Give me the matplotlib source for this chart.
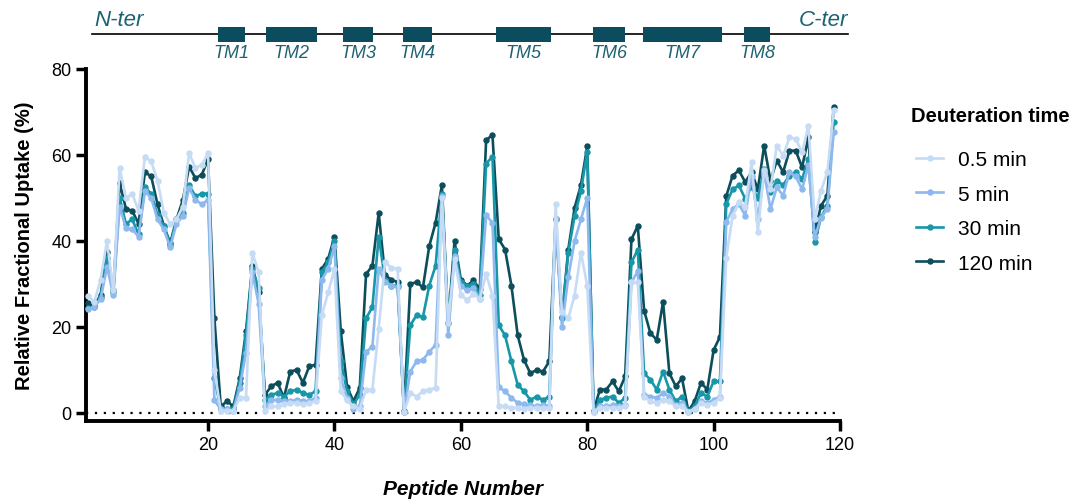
import matplotlib
matplotlib.use("Agg")
import matplotlib.pyplot as plt
from matplotlib.patches import Rectangle

plt.rcParams['font.family'] = ['Liberation Sans', 'DejaVu Sans']

peptides = list(range(1, 120))

t120 = [25.5, 24.8, 27.5, 37.5, 28.5, 53.5, 47.5, 47, 44, 56, 55, 48.5, 43.5, 39.5, 45, 49.5, 57.3, 54.6, 55.4, 59,
        22, 1.5, 2.7, 1.5, 8, 19, 34.2, 28, 4.2, 6.2, 7, 3.5, 9.6, 10, 7, 10.8, 11.2, 33.5, 35.8, 41,
        19, 6, 2.7, 5.8, 32.3, 34.2, 46.5, 32, 31, 30.4, 0.5, 30, 30.4, 29.2, 38.8, 44.2, 53, 21, 40, 31,
        29.6, 30.8, 28.8, 63.5, 64.6, 40.4, 38, 29.6, 18, 12.3, 9.2, 10, 9.6, 12, 45, 22.3, 38, 47.7, 53, 62,
        0.5, 5.4, 5.4, 7.3, 5, 8.5, 40.4, 43.5, 23.8, 18.5, 17, 25.8, 9.2, 6.2, 8, 0.4, 2.7, 7, 5.4, 14.6,
        17.7, 50.4, 55.2, 56.4, 53.7, 56, 52, 62.2, 54, 58.7, 56, 61, 61, 57.1, 64.1, 42, 48.2, 50.5, 71.2]

t30 = [24.5, 24.6, 27, 36, 28, 50, 44, 45, 41.5, 52.5, 51, 46, 43.5, 39, 45, 46.5, 53, 50.4, 51, 51,
       8, 1, 1, 1, 7, 18, 33.5, 29, 3, 4.2, 4.6, 3.8, 5, 5.4, 4.6, 4.2, 5, 32.7, 35, 40,
       12, 5, 2, 4.2, 22, 24.6, 41, 31, 29.6, 29.6, 0.3, 20.4, 22.7, 22.3, 29.6, 34.2, 51, 21, 38, 30.5,
       29.5, 30, 27.5, 58, 59.6, 20.4, 18, 12, 6.5, 5, 3, 3.8, 3, 3.8, 45, 22, 37.3, 45.8, 51.5, 60.8,
       0.4, 3, 3.5, 3.8, 2.3, 3.5, 35, 38, 9.2, 7.7, 5.4, 9.6, 5.4, 2.7, 3.8, 0.4, 1.5, 4.6, 3.8, 7.3,
       7.3, 48.6, 52, 52.9, 49.8, 52.6, 50, 56.7, 51.4, 54, 53, 55.2, 56, 54.4, 59, 39.7, 45.5, 48.2, 67.7]

t5 = [24.2, 24.6, 26.5, 34, 27.5, 48, 43, 42.7, 41, 51.5, 50, 45, 42.7, 38.5, 44, 45.8, 52.3, 49.6, 48.5, 49.6,
      3, 0.8, 0.8, 0.5, 5.8, 14, 32.7, 25.4, 1.5, 3, 3, 2.7, 2.7, 3, 2.7, 2.7, 3.5, 31, 33.5, 38.8,
      8, 3.5, 1, 1.5, 14.2, 15.4, 33.5, 30.5, 29.6, 29.2, 0.2, 9.6, 12, 12.3, 14.2, 15.8, 50.4, 18, 36.5, 29.5,
      28.5, 29, 26.5, 46, 44.2, 6, 5, 3.5, 2.3, 2, 1.8, 1.5, 1.8, 1.5, 45, 20, 31.5, 40, 45, 50,
      0.3, 1.5, 1.5, 1.8, 1.5, 1.8, 30.4, 33, 4.2, 3.8, 3.5, 4.6, 3.8, 1.8, 2.3, 0.3, 1, 2.7, 2.3, 3,
      3.8, 44.4, 47.4, 48.6, 45.9, 55.2, 45.1, 55.8, 47.4, 52.5, 50.5, 56, 55, 52, 57.7, 40.9, 45.4, 47.5, 65.4]

t05 = [27.3, 25.8, 31, 40, 28.5, 57, 50, 51, 47, 59.5, 58.5, 54, 46.5, 44, 45, 48, 60.4, 57, 57.7, 60.4,
       10, 0.5, 0.5, 0.5, 3.5, 3.5, 37.3, 32.7, 0.5, 1.5, 1.5, 2, 2.3, 2.3, 2, 2.3, 2.7, 22.7, 28, 33.5,
       5, 3, 1.5, 1, 5.4, 5.4, 19.6, 35, 33.8, 33.5, 0.2, 4.6, 3.8, 5, 5.4, 5.8, 50, 21, 35.8, 27.5,
       26.2, 27.7, 26.5, 32.3, 27.3, 1.5, 1.5, 1.2, 1.2, 0.8, 1.2, 1.2, 1.2, 1.2, 48.5, 23.5, 22, 27.3, 37.3, 29.6,
       0.3, 1.2, 1.2, 1.2, 1.2, 1.5, 30.4, 30.4, 3.8, 2.7, 2.3, 3.1, 2.7, 1.5, 1.5, 0.3, 0.8, 2.3, 1.9, 2.3,
       3.5, 36, 45.9, 49, 48, 58.3, 42.1, 56.5, 52, 62.2, 59.8, 64.1, 63.7, 60.6, 66.8, 45.1, 51.7, 56, 70.4]

series_labels = ['0.5 min', '5 min', '30 min', '120 min']
series_colors = ['#c6dbf4', '#8db9ee', '#1797a8', '#0c4e5b']
series_values = [t05, t5, t30, t120]

tm_names = ['TM1', 'TM2', 'TM3', 'TM4', 'TM5', 'TM6', 'TM7', 'TM8']
tm_start = [21.5, 29.2, 41.4, 50.8, 65.6, 80.9, 88.8, 104.8]
tm_end = [25.9, 37.2, 46.1, 55.5, 74.3, 86.0, 101.3, 108.9]

y_ticks = [0, 20, 40, 60, 80]
x_ticks = [20, 40, 60, 80, 100, 120]

W, H = 1083, 502
fig = plt.figure(figsize=(W / 100, H / 100), dpi=100)

left = 86 / W
right = 840 / W
bottom = 1 - 422 / H
top = 1 - 70 / H
ax = fig.add_axes([left, bottom, right - left, top - bottom])

xlim = (0.68, 120)
ax.set_xlim(*xlim)
ax.set_ylim(-1.9, 80)

ax.axhline(0, color='black', linestyle=(0, (1, 3)), linewidth=1.6, zorder=1)

handles = {}
n = len(series_values)
for i in range(n - 1, -1, -1):
    h, = ax.plot(peptides, series_values[i], color=series_colors[i], linewidth=1.9, marker='o',
                 markersize=3.6, label=series_labels[i], zorder=3 + (n - i), clip_on=False)
    handles[i] = h

for s in ['top', 'right']:
    ax.spines[s].set_visible(False)
for s in ['left', 'bottom']:
    ax.spines[s].set_linewidth(2.8)
ax.set_yticks(y_ticks)
ax.set_xticks(x_ticks)
ax.tick_params(axis='both', labelsize=13, width=2.5, length=7, direction='out')
ax.set_ylabel('Relative Fractional Uptake (%)', fontsize=14.5, fontweight='bold', labelpad=12)
ax.set_xlabel('Peptide Number', fontsize=15, fontweight='bold', style='italic', labelpad=19)

fig.text(911 / W, 1 - 116 / H, 'Deuteration time', ha='left', va='center',
         fontsize=14.5, fontweight='bold')
leg = ax.legend([handles[i] for i in range(n)], series_labels,
                loc='upper left', bbox_to_anchor=(908 / W, 1 - 143 / H),
                bbox_transform=fig.transFigure, frameon=False, fontsize=15,
                handlelength=1.3, labelspacing=0.74, handletextpad=0.7,
                borderaxespad=0, borderpad=0.4)

# topology track
ax_top = fig.add_axes([left, 1 - 65 / H, right - left, 65 / H])
ax_top.set_xlim(*xlim)
ax_top.set_ylim(0, 65)
ax_top.axis('off')
line_y = 65 - 35
ax_top.plot([1.6, 121.3], [line_y, line_y], color='black', linewidth=1.2, clip_on=False, zorder=1)
box_h = 15
for name, s, e in zip(tm_names, tm_start, tm_end):
    ax_top.add_patch(Rectangle((s, line_y - box_h / 2), e - s, box_h, facecolor='#0b4d5e',
                               edgecolor='none', zorder=2, clip_on=False))
    ax_top.text((s + e) / 2, 65 - 54, name, ha='center', va='center', fontsize=13,
                style='italic', color='#1c6272')
ax_top.text(2.0, 65 - 21, 'N-ter', ha='left', va='center', fontsize=16, style='italic', color='#1c6272')
ax_top.text(121.3, 65 - 21, 'C-ter', ha='right', va='center', fontsize=16, style='italic', color='#1c6272')

fig.savefig('out.png', dpi=100)
